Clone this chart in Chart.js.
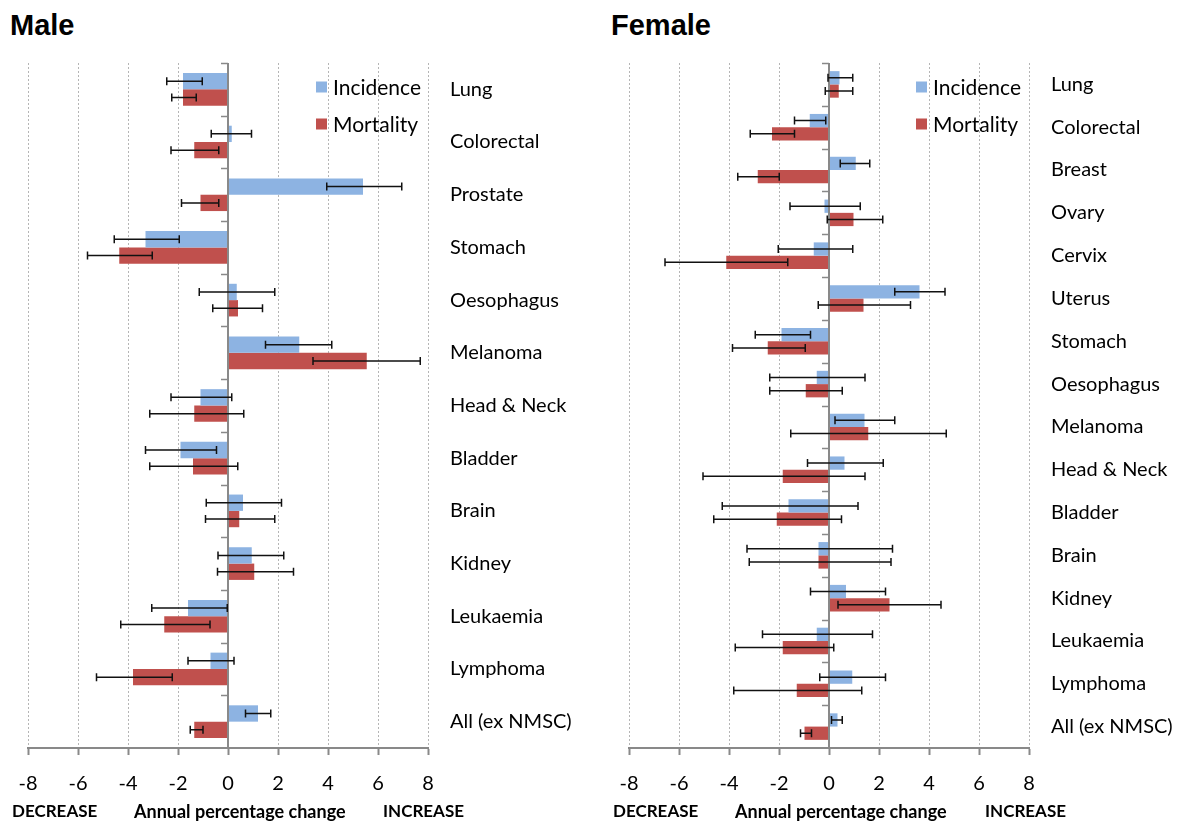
<!DOCTYPE html>
<html>
<head>
<meta charset="utf-8">
<script src="https://cdn.jsdelivr.net/npm/chart.js@4.4.0/dist/chart.umd.min.js"></script>
<style>
  html, body { margin:0; padding:0; background:#fff; }
  #wrap { position:relative; width:1183px; height:822px; overflow:hidden; background:#fff; }
  .title { position:absolute; font-family:"Liberation Sans", Arial, sans-serif; font-weight:bold; font-size:29px; line-height:30px; color:#000; }
  .foot { position:absolute; font-family:Lato, "Open Sans", sans-serif; font-weight:bold; font-size:17px; line-height:20px; color:#000; top:801px; white-space:nowrap; }
  .foot.mid { font-size:18px; }
  .box { position:absolute; top:0; }
</style>
</head>
<body>
<div id="wrap">
  <div class="title" style="left:10px;top:10px;">Male</div>
  <div class="title" style="left:611px;top:10px;">Female</div>
  <div class="box" style="left:0px;width:600px;height:822px;"><canvas id="maleChart" width="600" height="822"></canvas></div>
  <div class="box" style="left:601px;width:582px;height:822px;"><canvas id="femaleChart" width="582" height="822"></canvas></div>
  <div class="foot" style="left:12px;">DECREASE</div>
  <div class="foot mid" style="left:134px;">Annual percentage change</div>
  <div class="foot" style="left:383px;">INCREASE</div>
  <div class="foot" style="left:613px;">DECREASE</div>
  <div class="foot mid" style="left:735px;">Annual percentage change</div>
  <div class="foot" style="left:985px;">INCREASE</div>
</div>
<script>
// ---------- DATA ----------
const seriesNames = ["Incidence", "Mortality"];
const xTickValues = [-8, -6, -4, -2, 0, 2, 4, 6, 8];

const maleCategories = ["Lung", "Colorectal", "Prostate", "Stomach", "Oesophagus", "Melanoma", "Head & Neck", "Bladder", "Brain", "Kidney", "Leukaemia", "Lymphoma", "All (ex NMSC)"];
const maleIncidence     = [-1.8, 0.15, 5.4, -3.3, 0.35, 2.85, -1.1, -1.9, 0.6, 0.95, -1.6, -0.7, 1.2];
const maleIncidenceLow  = [-2.45, -0.67, 3.95, -4.55, -1.15, 1.5, -2.28, -3.3, -0.87, -0.4, -3.05, -1.6, 0.7];
const maleIncidenceHigh = [-1.03, 0.94, 6.95, -1.95, 1.87, 4.15, 0.15, -0.46, 2.14, 2.23, -0.03, 0.24, 1.71];
const maleMortality     = [-1.8, -1.35, -1.1, -4.35, 0.4, 5.55, -1.35, -1.4, 0.45, 1.05, -2.55, -3.8, -1.35];
const maleMortalityLow  = [-2.25, -2.28, -1.86, -5.62, -0.61, 3.4, -3.13, -3.13, -0.9, -0.42, -4.29, -5.26, -1.51];
const maleMortalityHigh = [-1.27, -0.37, -0.37, -3.03, 1.38, 7.69, 0.63, 0.39, 1.87, 2.62, -0.72, -2.23, -1.0];

const femaleCategories = ["Lung", "Colorectal", "Breast", "Ovary", "Cervix", "Uterus", "Stomach", "Oesophagus", "Melanoma", "Head & Neck", "Bladder", "Brain", "Kidney", "Leukaemia", "Lymphoma", "All (ex NMSC)"];
const femaleIncidence     = [0.42, -0.77, 1.07, -0.18, -0.61, 3.62, -1.9, -0.49, 1.42, 0.62, -1.62, -0.42, 0.68, -0.49, 0.93, 0.34];
const femaleIncidenceLow  = [-0.04, -1.38, 0.45, -1.56, -2.03, 2.63, -2.95, -2.37, 0.24, -0.86, -4.27, -3.28, -0.74, -2.66, -0.37, 0.1];
const femaleIncidenceHigh = [0.95, -0.13, 1.63, 1.25, 0.95, 4.64, -0.74, 1.44, 2.63, 2.17, 1.16, 2.54, 2.26, 1.74, 2.26, 0.53];
const femaleMortality     = [0.39, -2.28, -2.85, 0.98, -4.11, 1.38, -2.45, -0.93, 1.57, -1.85, -2.09, -0.42, 2.42, -1.85, -1.29, -0.98];
const femaleMortalityLow  = [-0.15, -3.15, -3.65, -0.07, -6.56, -0.43, -3.86, -2.37, -1.53, -5.04, -4.61, -3.19, 0.36, -3.75, -3.81, -1.14];
const femaleMortalityHigh = [0.95, -1.38, -1.99, 2.15, -1.65, 3.26, -0.95, 0.53, 4.69, 1.44, 0.5, 2.48, 4.48, 0.19, 1.31, -0.7];

// ---------- STYLE ----------
const incColor = "#8db3e2";
const mortColor = "#c0504d";
const axisGray = "#898989";
const gridGray = "#b5b5b5";
const fontFam = "Lato, 'Open Sans', sans-serif";

// ---------- PLUGINS ----------
const overlayPlugin = {
  id: "overlay",
  afterDatasetsDraw(chart) {
    const { ctx, chartArea } = chart;
    const xs = chart.scales.x, ys = chart.scales.y;
    const x0 = xs.getPixelForValue(0);
    ctx.save();
    // zero axis line
    ctx.strokeStyle = axisGray;
    ctx.lineWidth = 2;
    ctx.setLineDash([]);
    ctx.beginPath();
    ctx.moveTo(x0, chartArea.top);
    ctx.lineTo(x0, chartArea.bottom);
    ctx.stroke();
    // category boundary ticks on the zero axis
    const n = ys.ticks.length;
    const step = (chartArea.bottom - chartArea.top) / n;
    ctx.lineWidth = 1.5;
    for (let i = 0; i < n; i++) {
      const yy = Math.round(chartArea.top + i * step) + 0.5;
      ctx.beginPath();
      ctx.moveTo(x0 - 7, yy);
      ctx.lineTo(x0, yy);
      ctx.stroke();
    }
    // error bars
    const errs = chart.options.plugins.overlay.errors;
    ctx.strokeStyle = "#111";
    ctx.lineWidth = 1.5;
    chart.data.datasets.forEach((ds, di) => {
      const meta = chart.getDatasetMeta(di);
      const lo = errs[di][0], hi = errs[di][1];
      meta.data.forEach((el, i) => {
        const y = el.y;
        const a = xs.getPixelForValue(lo[i]);
        const b = xs.getPixelForValue(hi[i]);
        ctx.beginPath();
        ctx.moveTo(a, y); ctx.lineTo(b, y);
        ctx.moveTo(a, y - 4); ctx.lineTo(a, y + 4);
        ctx.moveTo(b, y - 4); ctx.lineTo(b, y + 4);
        ctx.stroke();
      });
    });
    // legend
    const lg = chart.options.plugins.overlay.legend;
    ctx.font = "21px " + fontFam;
    ctx.textBaseline = "middle";
    ctx.textAlign = "left";
    chart.data.datasets.forEach((ds, di) => {
      const bx = chartArea.right - lg.dx;
      const cy = chartArea.top + lg.y0 + di * lg.gap;
      ctx.fillStyle = ds.backgroundColor;
      ctx.fillRect(bx, cy - 5.5, 11, 11);
      ctx.fillStyle = "#000";
      ctx.fillText(ds.label, bx + 17, cy + 1);
    });
    ctx.restore();
  }
};

function makeChart(id, cats, inc, incLo, incHi, mort, mortLo, mortHi, canvasW, legendDx) {
  const plotLeft = 28, plotRight = 428, plotTop = 63, plotBottom = 748;
  return new Chart(document.getElementById(id), {
    type: "bar",
    data: {
      labels: cats,
      datasets: [
        { label: seriesNames[0], data: inc, backgroundColor: incColor, borderWidth: 0, categoryPercentage: 0.62, barPercentage: 1.0 },
        { label: seriesNames[1], data: mort, backgroundColor: mortColor, borderWidth: 0, categoryPercentage: 0.62, barPercentage: 1.0 }
      ]
    },
    options: {
      indexAxis: "y",
      responsive: false,
      animation: false,
      devicePixelRatio: 1,
      layout: { padding: { left: plotLeft, top: plotTop, right: 0, bottom: 0 } },
      plugins: {
        legend: { display: false },
        tooltip: { enabled: false },
        overlay: {
          errors: [[incLo, incHi], [mortLo, mortHi]],
          legend: { dx: legendDx, y0: 24, gap: 37 }
        }
      },
      scales: {
        x: {
          type: "linear",
          min: -8, max: 8,
          afterBuildTicks: (s) => { s.ticks = xTickValues.map(v => ({ value: v })); },
          afterFit: (s) => { s.height = 822 - plotBottom; },
          grid: {
            color: (c) => (c.tick && c.tick.value === 0) ? axisGray : gridGray,
            lineWidth: 1,
            drawTicks: true,
            tickLength: 7,
            tickColor: axisGray,
            tickWidth: 2
          },
          border: {
            display: true, color: axisGray, width: 2,
            dash: (c) => (c.tick && c.tick.value !== 0) ? [2, 2] : []
          },
          ticks: {
            color: "#000",
            font: { family: fontFam, size: 20 },
            padding: 17,
            maxRotation: 0,
            callback: (v) => String(v)
          }
        },
        y: {
          position: "right",
          afterFit: (s) => { s.width = canvasW - plotRight; },
          grid: { display: false, drawTicks: false },
          border: { display: false },
          ticks: {
            color: "#000",
            font: { family: fontFam, size: 20 },
            padding: 22,
            crossAlign: "near",
            autoSkip: false
          }
        }
      }
    },
    plugins: [overlayPlugin]
  });
}

makeChart("maleChart", maleCategories, maleIncidence, maleIncidenceLow, maleIncidenceHigh,
          maleMortality, maleMortalityLow, maleMortalityHigh, 600, 112);
makeChart("femaleChart", femaleCategories, femaleIncidence, femaleIncidenceLow, femaleIncidenceHigh,
          femaleMortality, femaleMortalityLow, femaleMortalityHigh, 582, 113);
</script>
</body>
</html>
